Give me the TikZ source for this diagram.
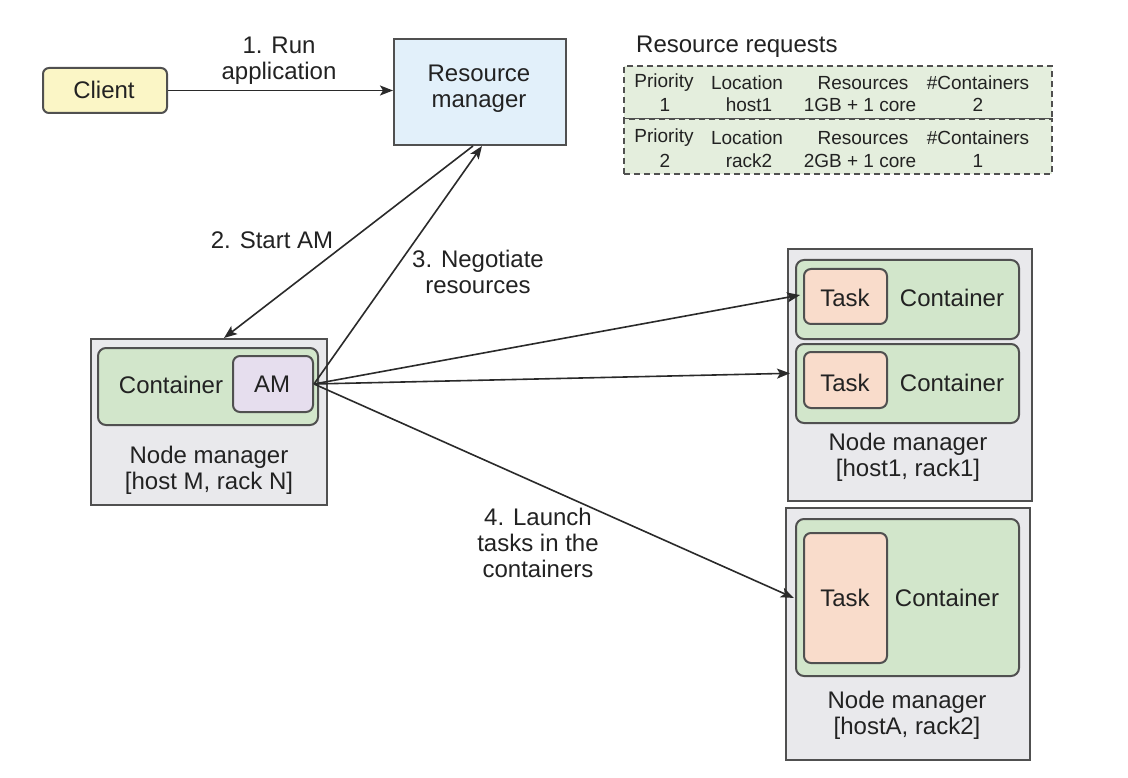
\documentclass[tikz,border=0pt]{standalone}
\usepackage{fontspec}
\setmainfont{Liberation Sans}
\usetikzlibrary{arrows.meta,calc}
\definecolor{clientfill}{HTML}{FBF6C6}
\definecolor{rmfill}{HTML}{E2F0FA}
\definecolor{tablefill}{HTML}{E4EEDD}
\definecolor{nmfill}{HTML}{E9E9EC}
\definecolor{contfill}{HTML}{D2E6CB}
\definecolor{taskfill}{HTML}{F9DCCB}
\definecolor{amfill}{HTML}{E6DEEE}
\definecolor{bordercol}{HTML}{505050}
\definecolor{txt}{HTML}{222222}
\definecolor{arrcol}{HTML}{2A2A2A}
\begin{document}
\begin{tikzpicture}[x=1pt,y=-1pt,
  boxbase/.style={draw=bordercol, line width=2, inner sep=0, anchor=north west},
  clientbox/.style={boxbase, fill=clientfill, rounded corners=6},
  rmbox/.style={boxbase, fill=rmfill},
  reqbox/.style={boxbase, fill=tablefill, dash pattern=on 6pt off 4pt},
  nmbox/.style={boxbase, fill=nmfill},
  contbox/.style={boxbase, fill=contfill, rounded corners=8},
  taskbox/.style={boxbase, fill=taskfill, rounded corners=7},
  ambox/.style={boxbase, fill=amfill, rounded corners=7},
  lbl/.style={font=\fontsize{24}{26}\selectfont, align=center, inner sep=0, text=txt},
  small/.style={font=\fontsize{19}{20}\selectfont, align=center, inner sep=0, text=txt},
  arr/.style={draw=arrcol, line width=1.6, -{Stealth[length=13,width=10,inset=3]}},
  plain/.style={draw=arrcol, line width=1.6}
]
\useasboundingbox[fill=white] (0,0) rectangle (1128,778);

% Client and resource manager
\node[clientbox, minimum width=124, minimum height=45] (client) at (42,67) {};
\node[lbl] (clientt) at (104,90) {Client};
\node[rmbox, minimum width=172, minimum height=106] (rm) at (393,38) {};
\node[lbl] (rmt) at (479,89) {Resource\\manager};

\draw[arr] (client.east) -- (client.east -| rm.west);
\node[lbl] (l1) at (279,61) {1. Run\\application};

% Resource requests table
\node[lbl, anchor=west] (rrt) at (636,47) {Resource requests};
\node[reqbox, minimum width=428, minimum height=53] (req1) at (623,65) {};
\node[reqbox, minimum width=428, minimum height=55] (req2) at (623,118) {};
\node[small] (r1a) at (664,83) {Priority};
\node[small] (r1b) at (747,83) {Location};
\node[small] (r1c) at (863,83) {Resources};
\node[small] (r1d) at (978,83) {\#Containers};
\node[small] (r2a) at (665,105) {1};
\node[small] (r2b) at (749,105) {host1};
\node[small] (r2c) at (860,105) {1GB + 1 core};
\node[small] (r2d) at (978,105) {2};
\node[small] (r3a) at (664,138) {Priority};
\node[small] (r3b) at (747,138) {Location};
\node[small] (r3c) at (863,138) {Resources};
\node[small] (r3d) at (978,138) {\#Containers};
\node[small] (r4a) at (665,161) {2};
\node[small] (r4b) at (749,161) {rack2};
\node[small] (r4c) at (860,161) {2GB + 1 core};
\node[small] (r4d) at (978,161) {1};

% Left node manager
\node[nmbox, minimum width=236, minimum height=166] (nml) at (90,338) {};
\node[contbox, minimum width=220, minimum height=77] (contl) at (97,347) {};
\node[ambox, minimum width=80, minimum height=56] (am) at (232,355) {};
\node[lbl] (amt) at (272,384) {AM};
\node[lbl] (contlt) at (171,385) {Container};
\node[lbl] (nmlt) at (209,470) {Node manager\\{}[host M, rack N]};

% Right node manager 1
\node[nmbox, minimum width=244, minimum height=252] (nm1) at (787,248) {};
\node[contbox, minimum width=223, minimum height=79] (c1) at (795,259) {};
\node[taskbox, minimum width=83, minimum height=55] (t1) at (803,268) {};
\node[lbl] (t1t) at (845,298) {Task};
\node[lbl] (c1t) at (952,298) {Container};
\node[contbox, minimum width=223, minimum height=79] (c2) at (795,343) {};
\node[taskbox, minimum width=83, minimum height=56] (t2) at (803,351) {};
\node[lbl] (t2t) at (845,383) {Task};
\node[lbl] (c2t) at (952,383) {Container};
\node[lbl] (nm1t) at (908,457) {Node manager\\{}[host1, rack1]};

% Right node manager 2
\node[nmbox, minimum width=244, minimum height=252] (nm2) at (785,507) {};
\node[contbox, minimum width=223, minimum height=157] (c3) at (795,518) {};
\node[taskbox, minimum width=83, minimum height=130] (t3) at (803,532) {};
\node[lbl] (t3t) at (845,598) {Task};
\node[lbl] (c3t) at (947,598) {Container};
\node[lbl] (nm2t) at (907,715) {Node manager\\{}[hostA, rack2]};

% Connectors
\draw[arr] ([xshift=-7]rm.south) -- ([xshift=15]nml.north);
\node[lbl] (l2) at (272,240) {2. Start AM};
\draw[arr] (am.east) -- ([xshift=2]rm.south);
\node[lbl] (l3) at (478,272) {3. Negotiate\\resources};
\draw[arr, shorten >=3] (am.east) -- ([yshift=2]t1.west);
\draw[arr, shorten >=13] (am.east) -- ([yshift=7]t2.west);
\draw[arr, shorten >=10] (am.east) -- ([yshift=-4]t3.west);
\node[lbl] (l4) at (538,543) {4. Launch\\tasks in the\\containers};
\end{tikzpicture}
\end{document}
